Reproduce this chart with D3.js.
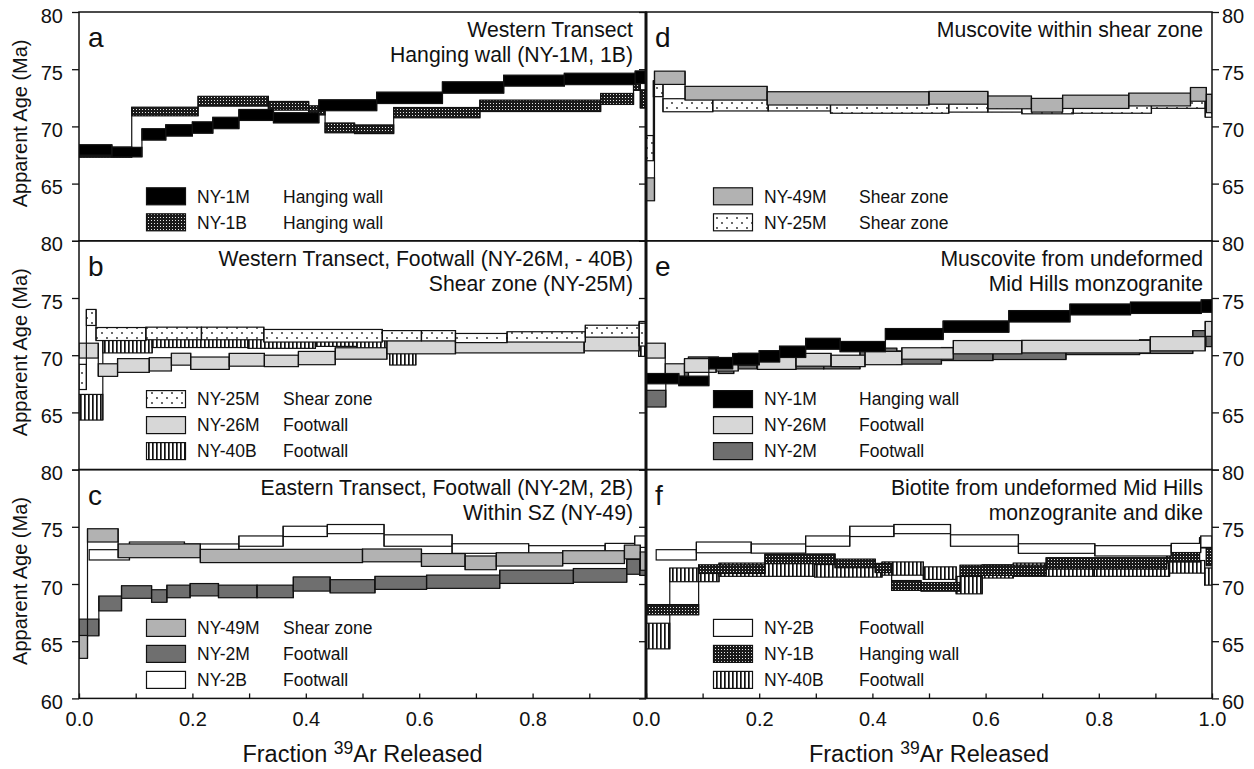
<!DOCTYPE html>
<html><head><meta charset="utf-8">
<script src="https://cdn.jsdelivr.net/npm/d3@7"></script>
<style>
body{margin:0;background:#fff}
svg{display:block}
text{font-family:"Liberation Sans",Arial,Helvetica,sans-serif;fill:#111}
</style></head>
<body><svg id="c" width="1254" height="769"></svg>
<script>
// ---- step-heating spectra: [fractionStart, fractionEnd, age (Ma), half-width (Ma)] ----
const NY1M = [
 [0.000,0.058,67.95,0.45],[0.058,0.111,67.75,0.42],[0.111,0.153,69.30,0.50],
 [0.153,0.200,69.65,0.50],[0.200,0.236,69.90,0.50],[0.236,0.282,70.30,0.50],
 [0.282,0.343,71.00,0.48],[0.343,0.423,70.75,0.45],[0.423,0.525,71.85,0.48],
 [0.525,0.641,72.50,0.50],[0.641,0.749,73.40,0.50],[0.749,0.856,74.00,0.48],
 [0.856,0.981,74.15,0.50],[0.981,1.000,74.30,0.55]
];
const NY1B = [
 [0.000,0.093,67.75,0.45],[0.093,0.210,71.30,0.38],[0.210,0.334,72.20,0.43],
 [0.334,0.405,71.80,0.38],[0.405,0.434,71.40,0.40],[0.434,0.486,69.87,0.43],
 [0.486,0.555,69.75,0.38],[0.555,0.707,71.20,0.45],[0.707,0.920,71.80,0.50],
 [0.920,0.978,72.40,0.48],[0.978,0.990,73.60,0.45],[0.990,1.000,72.40,0.80]
];
const NY25M = [
 [0.000,0.013,68.10,1.10],[0.013,0.030,73.30,0.70],[0.030,0.118,71.85,0.57],
 [0.118,0.216,71.90,0.55],[0.216,0.326,71.90,0.55],[0.326,0.535,71.70,0.55],
 [0.535,0.604,71.70,0.45],[0.604,0.664,71.70,0.45],[0.664,0.755,71.50,0.40],
 [0.755,0.893,71.60,0.45],[0.893,0.988,72.10,0.52],[0.988,1.000,71.80,1.00]
];
const NY26M = [
 [0.000,0.034,70.40,0.65],[0.034,0.068,68.70,0.55],[0.068,0.124,69.10,0.60],
 [0.124,0.163,69.20,0.58],[0.163,0.197,69.65,0.52],[0.197,0.265,69.30,0.54],
 [0.265,0.327,69.60,0.56],[0.327,0.387,69.50,0.50],[0.387,0.452,69.75,0.58],
 [0.452,0.543,70.15,0.50],[0.543,0.664,70.70,0.58],[0.664,0.891,70.75,0.55],
 [0.891,0.988,71.00,0.62],[0.988,1.000,72.30,0.65]
];
const NY40B = [
 [0.000,0.042,65.45,1.12],[0.042,0.129,70.80,0.60],[0.129,0.298,71.25,0.58],
 [0.298,0.417,71.15,0.55],[0.417,0.490,71.35,0.58],[0.490,0.548,70.95,0.55],
 [0.548,0.594,69.90,0.76],[0.594,0.649,71.10,0.58],[0.649,0.792,71.25,0.58],
 [0.792,0.925,71.25,0.58],[0.925,0.987,71.50,0.55],[0.987,1.000,70.65,0.75]
];
const NY49M = [
 [0.000,0.015,64.50,1.00],[0.015,0.069,74.25,0.58],[0.069,0.214,72.90,0.60],
 [0.214,0.500,72.45,0.58],[0.500,0.604,72.50,0.56],[0.604,0.681,72.10,0.56],
 [0.681,0.736,71.85,0.60],[0.736,0.853,72.15,0.58],[0.853,0.962,72.35,0.56],
 [0.962,0.990,72.80,0.60],[0.990,1.000,72.00,0.80]
];
const NY2M = [
 [0.000,0.035,66.20,0.73],[0.035,0.075,68.30,0.65],[0.075,0.128,69.30,0.55],
 [0.128,0.155,68.95,0.55],[0.155,0.196,69.35,0.55],[0.196,0.246,69.50,0.54],
 [0.246,0.314,69.35,0.55],[0.314,0.378,69.35,0.55],[0.378,0.443,70.00,0.62],
 [0.443,0.522,69.80,0.58],[0.522,0.613,70.10,0.57],[0.613,0.742,70.20,0.58],
 [0.742,0.872,70.63,0.58],[0.872,0.966,70.75,0.60],[0.966,0.989,71.50,0.65],
 [0.989,1.000,71.40,0.65]
];
const NY2B = [
 [0.018,0.089,72.55,0.45],[0.089,0.186,73.20,0.47],[0.186,0.282,73.10,0.40],
 [0.282,0.360,73.75,0.45],[0.360,0.438,74.60,0.45],[0.438,0.538,74.80,0.40],
 [0.538,0.658,73.80,0.50],[0.658,0.793,73.10,0.42],[0.793,0.928,72.90,0.45],
 [0.928,0.980,73.15,0.40],[0.980,1.000,73.70,0.50]
];

const ageTicks = [60, 65, 70, 75, 80];
const fracTicks = [0,0.1,0.2,0.3,0.4,0.5,0.6,0.7,0.8,0.9,1.0];
const fracLabelsLeft = [0,0.2,0.4,0.6,0.8];
const fracLabelsRight = [0,0.2,0.4,0.6,0.8,1.0];

const SAMPLES = {'NY-1M':NY1M,'NY-1B':NY1B,'NY-25M':NY25M,'NY-26M':NY26M,
                 'NY-40B':NY40B,'NY-49M':NY49M,'NY-2M':NY2M,'NY-2B':NY2B};

const panels = [
 {letter:'a', col:0, row:0, title:['Western Transect','Hanging wall (NY-1M, 1B)'],
  legend:[['NY-1M','Hanging wall'],['NY-1B','Hanging wall']]},
 {letter:'b', col:0, row:1, title:['Western Transect, Footwall (NY-26M, - 40B)','Shear zone (NY-25M)'],
  legend:[['NY-25M','Shear zone'],['NY-26M','Footwall'],['NY-40B','Footwall']]},
 {letter:'c', col:0, row:2, title:['Eastern Transect, Footwall (NY-2M, 2B)','Within SZ (NY-49)'],
  legend:[['NY-49M','Shear zone'],['NY-2M','Footwall'],['NY-2B','Footwall']]},
 {letter:'d', col:1, row:0, title:['Muscovite within shear zone'],
  legend:[['NY-49M','Shear zone'],['NY-25M','Shear zone']]},
 {letter:'e', col:1, row:1, title:['Muscovite from undeformed','Mid Hills monzogranite'],
  legend:[['NY-1M','Hanging wall'],['NY-26M','Footwall'],['NY-2M','Footwall']]},
 {letter:'f', col:1, row:2, title:['Biotite from undeformed Mid Hills','monzogranite and dike'],
  legend:[['NY-2B','Footwall'],['NY-1B','Hanging wall'],['NY-40B','Footwall']]}
];

// ---- layout ----
const colX = [[79,646],[646,1212]];
const rowY = [[12,240.8],[240.8,469.6],[469.6,698.4]];

const svg = d3.select('#c');
const defs = svg.append('defs');

// patterns
const pd = defs.append('pattern').attr('id','pDense').attr('patternUnits','userSpaceOnUse')
  .attr('width',3).attr('height',3);
pd.append('rect').attr('width',3).attr('height',3).attr('fill','#1a1a1a');
pd.append('rect').attr('x',1).attr('y',1).attr('width',1).attr('height',1).attr('fill','#e8e8e8');

const ps = defs.append('pattern').attr('id','pSparse').attr('patternUnits','userSpaceOnUse')
  .attr('width',10).attr('height',10);
ps.append('rect').attr('width',10).attr('height',10).attr('fill','#fff');
ps.append('circle').attr('cx',2).attr('cy',3).attr('r',0.9).attr('fill','#222');
ps.append('circle').attr('cx',7).attr('cy',8).attr('r',0.9).attr('fill','#222');

const pv = defs.append('pattern').attr('id','pStripe').attr('patternUnits','userSpaceOnUse')
  .attr('width',4).attr('height',4);
pv.append('rect').attr('width',4).attr('height',4).attr('fill','#fff');
pv.append('rect').attr('x',0).attr('width',1.7).attr('height',4).attr('fill','#111');

const FILL = {'NY-1M':'#000','NY-1B':'url(#pDense)','NY-25M':'url(#pSparse)','NY-26M':'#d7d7d7',
              'NY-40B':'url(#pStripe)','NY-49M':'#b2b2b2','NY-2M':'#6f6f6f','NY-2B':'#fff'};

const axesG = svg.append('g');
const dataG = svg.append('g');
const frameG = svg.append('g');
const textG = svg.append('g');

panels.forEach((p,i) => {
  const [x0,x1] = colX[p.col], [y0,y1] = rowY[p.row];
  const x = d3.scaleLinear().domain([0,1]).range([x0,x1]);
  const y = d3.scaleLinear().domain([60,80]).range([y1,y0]);
  const bottomRow = p.row === 2;
  const labelFmt = v => (v === 60 && !bottomRow) ? '' : d3.format('d')(v);

  // y axis (outer side)
  if (p.col === 0) {
    const g = axesG.append('g').attr('transform',`translate(${x0},0)`)
      .call(d3.axisLeft(y).tickValues(ageTicks).tickSize(7).tickPadding(9).tickFormat(labelFmt));
    g.select('.domain').remove();
    g.selectAll('text').attr('font-size',20).attr('dy','0.5em');
  } else {
    const g = axesG.append('g').attr('transform',`translate(${x1},0)`)
      .call(d3.axisRight(y).tickValues(ageTicks).tickSize(7).tickPadding(3).tickFormat(labelFmt));
    g.select('.domain').remove();
    g.selectAll('text').attr('font-size',20).attr('dy','0.5em');
    const g2 = axesG.append('g').attr('transform',`translate(${x0},0)`)
      .call(d3.axisLeft(y).tickValues(ageTicks).tickSize(7).tickFormat(''));
    g2.select('.domain').remove();
  }
  axesG.selectAll('line').attr('stroke','#111').attr('stroke-width',1.3);

  // x axis on bottom row
  if (bottomRow) {
    const labs = p.col === 0 ? fracLabelsLeft : fracLabelsRight;
    const g = axesG.append('g').attr('transform',`translate(0,${y1})`)
      .call(d3.axisBottom(x).tickValues(fracTicks).tickSizeInner(-5).tickSizeOuter(0).tickPadding(13)
        .tickFormat(v => labs.some(l => Math.abs(l - v) < 1e-9) ? d3.format('.1f')(v) : ''));
    g.select('.domain').remove();
    g.selectAll('line').attr('stroke','#111').attr('stroke-width',1.3);
    g.selectAll('text').attr('font-size',20);
  }

  // clip
  const cid = 'clip' + i;
  defs.append('clipPath').attr('id',cid).append('rect')
    .attr('x',x0).attr('y',y0).attr('width',x1-x0).attr('height',y1-y0);
  const pg = dataG.append('g').attr('clip-path',`url(#${cid})`);

  // spectra, drawn in reverse legend order so the first legend entry is on top
  p.legend.slice().reverse().forEach(([name]) => {
    const steps = SAMPLES[name];
    const sg = pg.append('g');
    sg.selectAll('rect').data(steps).join('rect')
      .attr('x', d => x(d[0])).attr('width', d => x(d[1]) - x(d[0]))
      .attr('y', d => y(d[2] + d[3])).attr('height', d => y(d[2] - d[3]) - y(d[2] + d[3]))
      .attr('fill', FILL[name]).attr('stroke','#111').attr('stroke-width',1.2);
    const links = steps.slice(1).map((d,k) => [steps[k], d]).filter(([a,b]) => Math.abs(a[1]-b[0]) < 1e-6);
    sg.selectAll('line').data(links).join('line')
      .attr('x1', d => x(d[1][0])).attr('x2', d => x(d[1][0]))
      .attr('y1', d => y(Math.min(d[0][2]-d[0][3], d[1][2]-d[1][3])))
      .attr('y2', d => y(Math.max(d[0][2]+d[0][3], d[1][2]+d[1][3])))
      .attr('stroke','#111').attr('stroke-width',1.2);
  });

  // frame
  frameG.append('rect').attr('x',x0).attr('y',y0).attr('width',x1-x0).attr('height',y1-y0)
    .attr('fill','none').attr('stroke','#111').attr('stroke-width',1.5);

  // panel letter
  textG.append('text').attr('x',x0+9).attr('y',y0+35).attr('font-size',28).text(p.letter);

  // title
  const tx = x1 - (p.col === 0 ? 13 : 9);
  p.title.forEach((t,k) => {
    textG.append('text').attr('x',tx).attr('y',y0+25+25*k).attr('text-anchor','end')
      .attr('font-size',21.2).text(t);
  });

  // legend
  const n = p.legend.length;
  const descOff = p.col === 0 ? 204 : 213;
  p.legend.forEach(([name,desc],k) => {
    const cy = y1 - 18.5 - 26*(n-1-k);
    textG.append('rect').attr('x',x0+67.5).attr('y',cy-8.5).attr('width',39).attr('height',17)
      .attr('fill',FILL[name]).attr('stroke','#111').attr('stroke-width',1.2);
    textG.append('text').attr('x',x0+118).attr('y',cy+6.3).attr('font-size',17.5).text(name);
    textG.append('text').attr('x',x0+descOff).attr('y',cy+6.3).attr('font-size',17.5).text(desc);
  });

  // y-axis title
  if (p.col === 0) {
    textG.append('text').attr('transform',`translate(27,${(y0+y1)/2-3}) rotate(-90)`)
      .attr('text-anchor','middle').attr('font-size',20).text('Apparent Age (Ma)');
  }
  // x-axis title
  if (bottomRow) {
    const t = textG.append('text').attr('x',(x0+x1)/2).attr('y',762).attr('text-anchor','middle')
      .attr('font-size',23.5);
    t.append('tspan').text('Fraction ');
    t.append('tspan').attr('font-size',17.5).attr('dy',-8).text('39');
    t.append('tspan').attr('dy',8).text('Ar Released');
  }
});

// thicker central divider
frameG.append('line').attr('x1',646).attr('x2',646).attr('y1',12).attr('y2',698.4)
  .attr('stroke','#111').attr('stroke-width',3);
</script></body></html>
